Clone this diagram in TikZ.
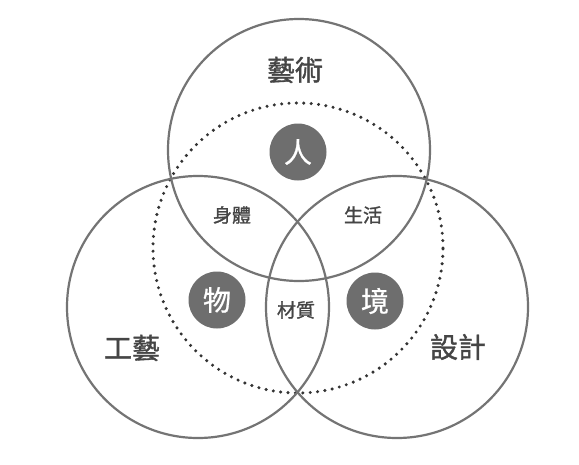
\documentclass[tikz,border=0pt]{standalone}
\usepackage{fontspec}
\newfontfamily\cjk[FakeBold=1.3]{Noto Sans CJK TC}
\newfontfamily\cjklight[FakeBold=0.8]{Noto Sans CJK TC}
\usetikzlibrary{positioning}
\definecolor{ring}{HTML}{747474}
\definecolor{ink}{HTML}{454545}
\definecolor{disc}{HTML}{6E6E6E}
\tikzstyle{field} = [draw=ring, circle, line width=2.2pt, minimum size=262pt, inner sep=0pt]
\tikzstyle{halo} = [draw=black!80, circle, line width=3.4pt, dash pattern=on 0pt off 7.4pt, line cap=round, minimum size=290pt, inner sep=0pt]
\tikzstyle{title} = [font=\cjk\fontsize{28}{28}\selectfont, text=ink]
\tikzstyle{pair} = [font=\cjk\fontsize{19}{19}\selectfont, text=ink]
\tikzstyle{core} = [circle, fill=disc, minimum size=57pt, inner sep=0pt, text=white, font=\cjklight\fontsize{28}{28}\selectfont]

\begin{document}
\begin{tikzpicture}[x=1pt, y=-1pt]
    \useasboundingbox [fill=white] (0,0) rectangle (579,464);

    \node [halo] (whole) at (298,248) {};

    \node [field] (art) at (299,150) {};
    \node [field] (craft) at (198,307) {};
    \node [field] (design) at (397,307) {};

    \node [title] (artname) at (295,70) {藝術};
    \node [title] (craftname) at (132,348) {工藝};
    \node [title] (designname) at (458,347) {設計};

    \node [core] (person) at (298,152) {人};
    \node [core] (thing) at (217,300) {物};
    \node [core] (place) at (375,301) {境};

    \node [pair] (body) at (232,215) {身體};
    \node [pair] (life) at (363,215) {生活};
    \node [pair] (matter) at (296,310) {材質};
\end{tikzpicture}
\end{document}
